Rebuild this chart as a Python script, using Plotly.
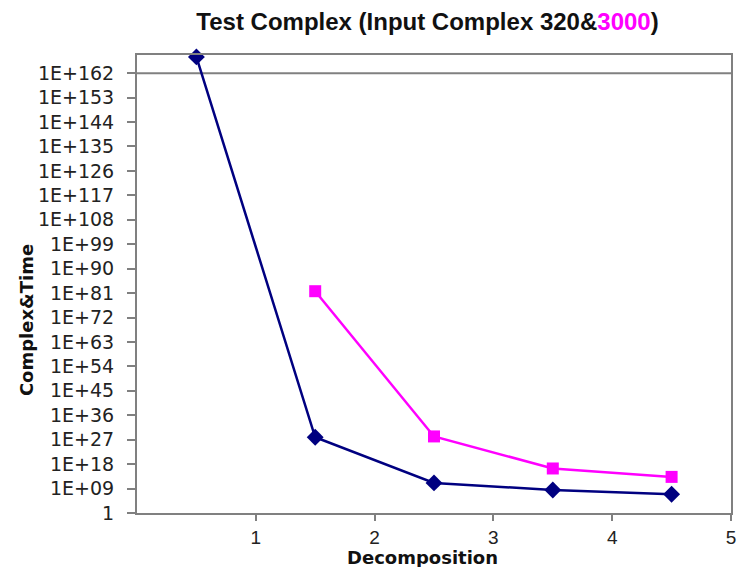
import plotly.graph_objects as go

# ---- data ----
decomp_320 = [0.5, 1.5, 2.5, 3.5, 4.5]
complex_320 = [1e168, 8e27, 1.2e11, 3e8, 8e6]
decomp_3000 = [1.5, 2.5, 3.5, 4.5]
complex_3000 = [5e81, 1.6e28, 2.5e16, 2e13]

tick_exponents = [0, 9, 18, 27, 36, 45, 54, 63, 72, 81, 90, 99, 108, 117, 126, 135, 144, 153, 162]
tick_labels = ["1", "1E+09", "1E+18", "1E+27", "1E+36", "1E+45", "1E+54", "1E+63", "1E+72",
               "1E+81", "1E+90", "1E+99", "1E+108", "1E+117", "1E+126", "1E+135", "1E+144",
               "1E+153", "1E+162"]
x_ticks = [1, 2, 3, 4, 5]
grid_value = 1e162

fig = go.Figure()
fig.add_trace(go.Scatter(
    x=decomp_320, y=complex_320, mode="lines+markers", name="320",
    line=dict(color="#000080", width=2.5),
    marker=dict(symbol="diamond", size=13, color="#000080"),
    cliponaxis=False,
))
fig.add_trace(go.Scatter(
    x=decomp_3000, y=complex_3000, mode="lines+markers", name="3000",
    line=dict(color="#FF00FF", width=2.5),
    marker=dict(symbol="square", size=12, color="#FF00FF"),
    cliponaxis=False,
))

fig.add_shape(type="line", xref="paper", x0=0, x1=1, yref="y",
              y0=grid_value, y1=grid_value,
              line=dict(color="#808080", width=2), layer="below")

fig.update_layout(
    width=738, height=567,
    margin=dict(l=137, r=2, t=55, b=54),
    paper_bgcolor="white", plot_bgcolor="white",
    showlegend=False,
    title=dict(
        text='Test Complex (Input Complex 320&<span style="color:#FF00FF">3000</span>)',
        font=dict(family="Liberation Sans", size=24, color="#111111", weight="bold"),
        x=427.5 / 738, xanchor="center", xref="container",
        y=1 - 22 / 567, yanchor="middle", yref="container",
    ),
    xaxis=dict(
        range=[0, 5], tickvals=x_ticks, ticks="outside", ticklen=6, tickwidth=1.5,
        tickcolor="#808080", showgrid=False, zeroline=False,
        showline=True, linecolor="#808080", linewidth=2, mirror=True,
        ticklabeloverflow="allow",
        tickfont=dict(family="Liberation Sans", size=19, color="#222222"),
    ),
    yaxis=dict(
        type="log", range=[0, 168.7],
        tickvals=[10.0 ** e for e in tick_exponents], ticktext=tick_labels,
        ticks="outside", ticklen=8, tickwidth=1.5, tickcolor="#808080",
        ticklabelstandoff=9,
        showgrid=False, zeroline=False,
        showline=True, linecolor="#808080", linewidth=2, mirror=True,
        tickfont=dict(family="DejaVu Sans", size=19, color="#222222"),
    ),
    annotations=[
        dict(text="<b>Complex&Time</b>", xref="paper", yref="paper",
             x=(25 - 137) / 600, y=(513 - 320) / 458, xanchor="center", yanchor="middle",
             textangle=-90, showarrow=False,
             font=dict(family="DejaVu Sans", size=18, color="#111111")),
        dict(text="<b>Decomposition</b>", xref="paper", yref="paper",
             x=(425.5 - 137) / 600, y=(513 - 557) / 458, xanchor="center", yanchor="middle",
             showarrow=False,
             font=dict(family="DejaVu Sans", size=18, color="#111111")),
    ],
)

fig.write_html(
    "out.html",
    config={"displayModeBar": False},
    post_script="document.body.style.margin='0';document.body.style.overflow='hidden';",
)
